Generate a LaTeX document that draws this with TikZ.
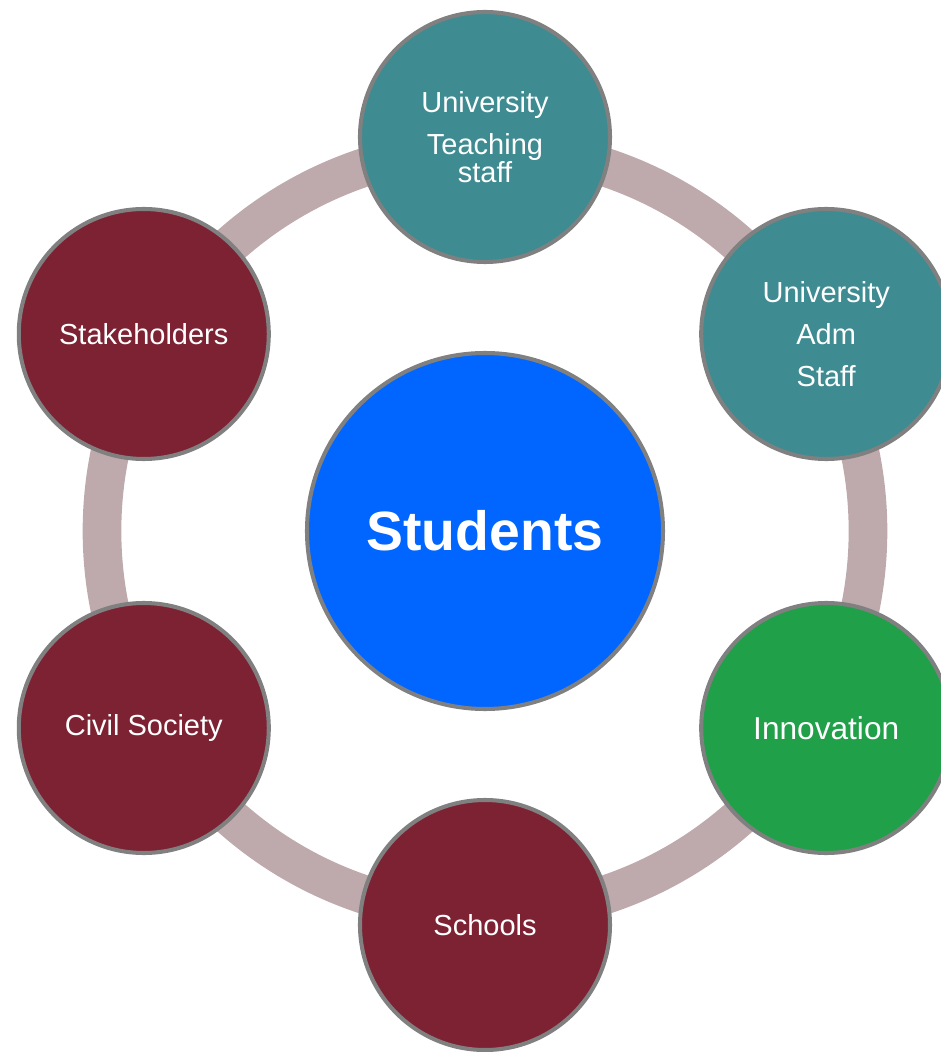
\documentclass[tikz,border=0pt]{standalone}
\usepackage{fontspec}
\setmainfont{Liberation Sans}
\usepackage{tikz}
\usetikzlibrary{positioning}
\definecolor{ringgray}{RGB}{190,170,172}
\definecolor{tealnode}{RGB}{62,139,145}
\definecolor{rednode}{RGB}{125,34,51}
\definecolor{greennode}{RGB}{33,160,74}
\definecolor{bluenode}{RGB}{0,102,255}
\definecolor{edgegray}{RGB}{128,128,128}
\tikzset{bubble/.style = {circle, draw = edgegray, line width = 2.3pt, text = white,
                          minimum size = 5cm, inner sep = 0, align = center,
                          font = \fontsize{16.5}{20}\selectfont}}
\tikzset{hub/.style = {bubble, fill = bluenode, minimum size = 7.12cm,
                       font = \fontsize{31.5}{36}\selectfont\bfseries}}

\begin{document}
\begin{tikzpicture}
    \useasboundingbox (-9.7, -10.42) rectangle (9.12, 10.62);
    \clip (-9.7, -10.42) rectangle (9.12, 10.62);
    \draw [ringgray, line width = 22pt] (0, 0) circle (7.66);
    \node [hub] (students) at (0, 0) {Students};
    \node [bubble, fill = tealnode, font = \fontsize{16.5}{16}\selectfont]
      (teaching) at (90:7.88) {University\\[8pt]Teaching\\staff};
    \node [bubble, fill = tealnode, font = \fontsize{16.5}{24}\selectfont]
      (adm) at (30:7.88) {University\\Adm\\Staff};
    \node [bubble, fill = greennode, font = \fontsize{18}{22}\selectfont]
      (innovation) at (-30:7.88) {Innovation};
    \foreach \a/\name/\txt in {-90/schools/Schools, 210/civil/Civil Society,
                               150/stake/Stakeholders} {
      \node [bubble, fill = rednode] (\name) at (\a:7.88) {\txt};
    }
  \end{tikzpicture}
\end{document}
